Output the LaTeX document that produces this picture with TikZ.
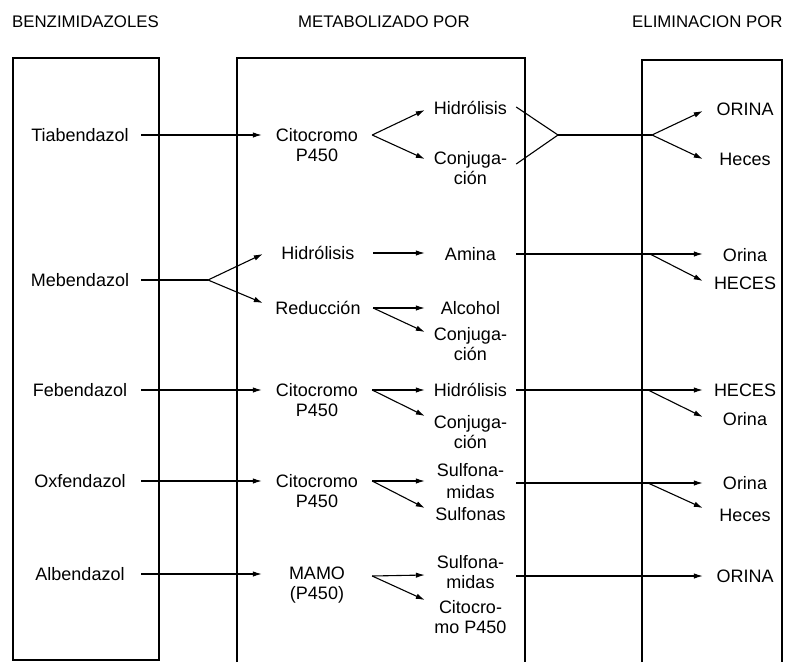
\documentclass[tikz,border=0pt]{standalone}
\usepackage{fontspec}
\setmainfont{Liberation Sans}
\usetikzlibrary{arrows.meta}
\tikzset{
  txt/.style={font=\fontsize{18}{20}\selectfont, inner sep=0pt, align=center},
  c0/.style={txt, minimum width=122pt},
  c1/.style={txt, minimum width=110pt},
  c2/.style={txt, minimum width=91pt},
  c3/.style={txt, minimum width=84pt},
  hdr/.style={font=\fontsize{16.8}{19}\selectfont, inner sep=0pt, anchor=base west},
  frame/.style={line width=1.3pt},
  ln/.style={line width=1.1pt},
  arr/.style={ln, -{Latex[length=9pt,width=5.5pt]}},
}
\begin{document}
\begin{tikzpicture}[x=1pt,y=-1pt]
\useasboundingbox (0,0) rectangle (790,662);

% headers
\node[hdr] (hb) at (12,27) {BENZIMIDAZOLES};
\node[hdr] (hm) at (298,27) {METABOLIZADO POR};
\node[hdr] (he) at (632,27) {ELIMINACION POR};

% frames
\draw[frame] (13,58) rectangle (159,660);
\draw[frame] (237,662) -- (237,58) -- (525,58) -- (525,662);
\draw[frame] (642,662) -- (642,60) -- (782,60) -- (782,662);

% ---- Row 1: Tiabendazol
\node[c0] (tia) at (80,135) {Tiabendazol};
\node[c1] (cit1) at (317,145) {Citocromo\\P450};
\node[c2] (hid1) at (470.5,108) {Hidrólisis};
\node[c2] (con1) at (470.5,168) {Conjuga-\\ción};
\node[c3] (ori1) at (745,109) {ORINA};
\node[c3] (hec1) at (745,159) {Heces};
\coordinate (j1) at (558,135);
\coordinate (f1) at (652,135);
\draw[arr] (tia.east) -- (tia.east -| cit1.west);
\draw[arr] ([yshift=10pt]cit1.east) -- ([yshift=-2pt]hid1.west);
\draw[arr] ([yshift=10pt]cit1.east) -- ([yshift=9pt]con1.west);
\draw[ln] ([yshift=1pt]hid1.east) -- (j1) -- ([yshift=4pt]con1.east);
\draw[ln] (j1) -- (f1);
\draw[arr] (f1) -- ([yshift=-2pt]ori1.west);
\draw[arr] (f1) -- (hec1.west);

% ---- Row 2: Mebendazol
\node[c0] (meb) at (80,280) {Mebendazol};
\coordinate (f2) at (208,280);
\node[c1] (hid2) at (318,253) {Hidrólisis};
\node[c1] (red2) at (318,308) {Reducción};
\node[c2] (ami2) at (470.5,254) {Amina};
\node[c2] (alc2) at (470.5,308) {Alcohol};
\node[c2] (con2) at (470.5,344) {Conjuga-\\ción};
\node[c3] (ori2) at (745,255) {Orina};
\node[c3] (hes2) at (745,283) {HECES};
\coordinate (f2b) at (650,254);
\draw[ln] (meb.east) -- (f2);
\draw[arr] (f2) -- ([yshift=-1pt]hid2.west);
\draw[arr] (f2) -- ([yshift=5pt]red2.west);
\draw[arr] (hid2.east) -- (hid2.east -| ami2.west);
\draw[arr] (red2.east) -- (alc2.west);
\draw[arr] (red2.east) -- ([yshift=12pt]con2.west);
\draw[arr] (ami2.east) -- (ami2.east -| ori2.west);
\draw[arr] (f2b) -- ([yshift=2pt]hes2.west);

% ---- Row 3: Febendazol
\node[c0] (feb) at (80,390) {Febendazol};
\node[c1] (cit3) at (317,400) {Citocromo\\P450};
\node[c2] (hid3) at (470.5,390) {Hidrólisis};
\node[c2] (con3) at (470.5,432) {Conjuga-\\ción};
\node[c3] (hes3) at (745,390) {HECES};
\node[c3] (ori3) at (745,419) {Orina};
\coordinate (f3) at (648,390);
\draw[arr] (feb.east) -- (feb.east -| cit3.west);
\draw[arr] ([yshift=10pt]cit3.east) -- (hid3.west);
\draw[arr] ([yshift=10pt]cit3.east) -- ([yshift=16pt]con3.west);
\draw[arr] (hid3.east) -- (hid3.east -| hes3.west);
\draw[arr] (f3) -- ([yshift=2pt]ori3.west);

% ---- Row 4: Oxfendazol
\node[c0] (oxf) at (80,481) {Oxfendazol};
\node[c1] (cit4) at (317,491) {Citocromo\\P450};
\node[c2, font=\fontsize{18}{22}\selectfont] (sul4) at (470.5,481) {Sulfona-\\midas};
\node[c2] (sus4) at (470.5,514) {Sulfonas};
\node[c3] (ori4) at (745,483) {Orina};
\node[c3] (hec4) at (745,515) {Heces};
\coordinate (f4) at (648,483);
\draw[arr] (oxf.east) -- (oxf.east -| cit4.west);
\draw[arr] ([yshift=10pt]cit4.east) -- (sul4.west);
\draw[arr] ([yshift=10pt]cit4.east) -- ([yshift=6pt]sus4.west);
\draw[arr] ([yshift=-2pt]sul4.east) -- ([yshift=-2pt]sul4.east -| ori4.west);
\draw[arr] (f4) -- ([yshift=7pt]hec4.west);

% ---- Row 5: Albendazol
\node[c0] (alb) at (80,574) {Albendazol};
\node[c1] (mam5) at (317,585) {MAMO\\(P450)};
\node[c2] (sul5) at (470.5,572) {Sulfona-\\midas};
\node[c2] (cit5) at (470.5,617) {Citocro-\\mo P450};
\node[c3] (ori5) at (745,576) {ORINA};
\draw[arr] (alb.east) -- (alb.east -| mam5.west);
\draw[arr] ([yshift=9pt]mam5.east) -- ([yshift=-3pt]sul5.west);
\draw[arr] ([yshift=9pt]mam5.east) -- ([yshift=17pt]cit5.west);
\draw[arr] ([yshift=-4pt]sul5.east) -- ([yshift=-4pt]sul5.east -| ori5.west);
\end{tikzpicture}
\end{document}
